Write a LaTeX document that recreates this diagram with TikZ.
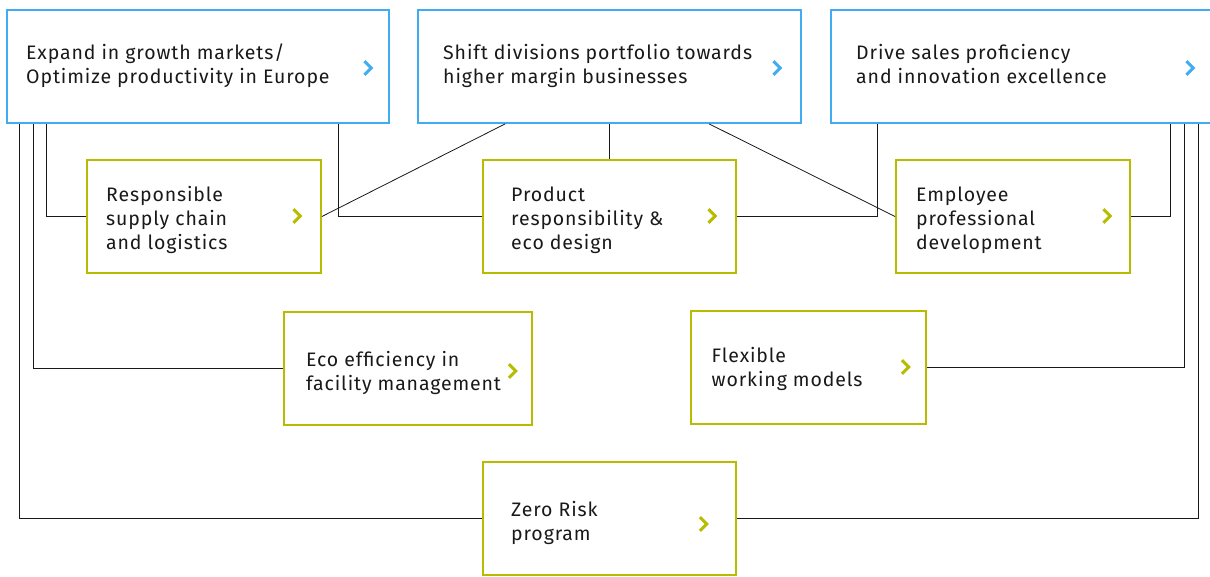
\documentclass[tikz,border=0pt]{standalone}
\usepackage{fontspec}
\setmainfont{Fira Sans}[LetterSpace=4.5]
\definecolor{topblue}{RGB}{64,172,242}
\definecolor{olive}{RGB}{183,188,0}
\definecolor{ink}{RGB}{25,25,25}
\tikzset{
  bluebox/.style={draw=topblue, line width=1.8pt, rectangle, inner sep=0pt},
  greenbox/.style={draw=olive, line width=1.8pt, rectangle, inner sep=0pt},
  lbl/.style={anchor=west, align=left, inner sep=0pt, text=ink, font=\fontsize{19.5}{24}\selectfont},
  conn/.style={draw=ink, line width=0.8pt},
  chev/.style={line width=3pt, miter limit=10, line cap=butt},
}
\newcommand{\mychev}[3]{\draw[chev,#3] (#1-3.5,#2-6.8) -- (#1+3.2,#2) -- (#1-3.5,#2+6.8);}
\begin{document}
\begin{tikzpicture}[x=1pt,y=-1pt]
\useasboundingbox (0,0) rectangle (1210,576);
% top boxes
\node[bluebox, minimum width=382pt, minimum height=113pt] (b1) at (198,66.5) {};
\node[bluebox, minimum width=383pt, minimum height=113pt] (b2) at (609.5,66.5) {};
\node[bluebox, minimum width=382pt, minimum height=113pt] (b3) at (1022,66.5) {};
% green boxes
\node[greenbox, minimum width=234pt, minimum height=113pt] (g1) at (204,216.5) {};
\node[greenbox, minimum width=253pt, minimum height=113pt] (g2) at (609.5,216.5) {};
\node[greenbox, minimum width=234pt, minimum height=113pt] (g3) at (1013,216.5) {};
\node[greenbox, minimum width=248pt, minimum height=113pt] (g4) at (408,368.5) {};
\node[greenbox, minimum width=235pt, minimum height=113pt] (g5) at (808.5,367.5) {};
\node[greenbox, minimum width=253pt, minimum height=113pt] (g6) at (609.5,518.5) {};
% labels
\node[lbl] (t1) at (26,66.7) {\strut Expand in growth markets/\\Optimize productivity in Europe\strut};
\node[lbl] (t2) at (443,66.7) {\strut Shift divisions portfolio towards\\higher margin businesses\strut};
\node[lbl] (t3) at (856,66.7) {\strut Drive sales proficiency\\and innovation excellence\strut};
\node[lbl] (t4) at (106,221) {\strut Responsible\\supply chain\\and logistics\strut};
\node[lbl] (t5) at (511,221) {\strut Product\\responsibility \&\\eco design\strut};
\node[lbl] (t6) at (916,221) {\strut Employee\\professional\\development\strut};
\node[lbl] (t7) at (306,373.2) {\strut Eco efficiency in\\facility management\strut};
\node[lbl] (t8) at (711.5,369.5) {\strut Flexible\\working models\strut};
\node[lbl] (t9) at (511,524) {\strut Zero Risk\\program\strut};
% chevrons
\mychev{368}{68}{topblue}
\mychev{777}{68}{topblue}
\mychev{1190}{68}{topblue}
\mychev{297}{216}{olive}
\mychev{712}{216}{olive}
\mychev{1107}{216}{olive}
\mychev{512.5}{371}{olive}
\mychev{905.5}{367}{olive}
\mychev{703.5}{524}{olive}
% connectors from b1
\draw[conn] ([xshift=13pt]b1.south west) |- (g6.west);
\draw[conn] ([xshift=27pt]b1.south west) |- (g4.west);
\draw[conn] ([xshift=40pt]b1.south west) |- (g1.west);
\draw[conn] ([xshift=332pt]b1.south west) |- (g2.west);
% connectors from b2
\draw[conn] ([xshift=88pt]b2.south west) -- (g1.east);
\draw[conn] (b2.south) -- (g2.north);
\draw[conn] ([xshift=292pt]b2.south west) -- (g3.west);
% connectors from b3
\draw[conn] ([xshift=47pt]b3.south west) |- (g2.east);
\draw[conn] ([xshift=340pt]b3.south west) |- (g3.east);
\draw[conn] ([xshift=354pt]b3.south west) |- (g5.east);
\draw[conn] ([xshift=368pt]b3.south west) |- (g6.east);
\end{tikzpicture}
\end{document}
